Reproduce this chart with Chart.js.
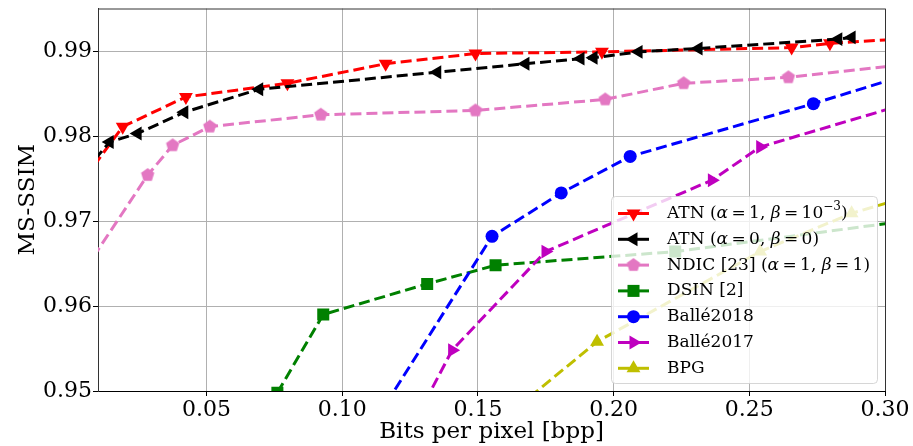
<!DOCTYPE html>
<html>
<head>
<meta charset="utf-8">
<script src="https://cdn.jsdelivr.net/npm/chart.js@4"></script>
<style>
  html, body { margin: 0; padding: 0; background: #fff; }
  #wrap { width: 913px; height: 446px; }
</style>
</head>
<body>
<div id="wrap"><canvas id="rd-chart" width="913" height="446"></canvas></div>
<script>
// rate-distortion points (bpp, MS-SSIM)
const atnBpp   = [0.005, 0.0191, 0.0424, 0.0798, 0.1160, 0.1491, 0.1957, 0.2656, 0.2797, 0.31];
const atnSsim  = [0.9750, 0.9811, 0.9846, 0.9862, 0.9885, 0.9897, 0.9899, 0.9904, 0.9909, 0.9915];
const atn0Bpp  = [0.005, 0.0143, 0.0246, 0.0418, 0.0694, 0.1350, 0.1675, 0.1878, 0.1926, 0.2092, 0.2313, 0.2828, 0.2877];
const atn0Ssim = [0.9758, 0.9793, 0.9803, 0.9828, 0.9855, 0.9875, 0.9885, 0.9891, 0.9892, 0.9899, 0.9903, 0.9914, 0.9916];
const ndicBpp  = [0.005, 0.0283, 0.0375, 0.0512, 0.0921, 0.1491, 0.1969, 0.2258, 0.2644, 0.31];
const ndicSsim = [0.9642, 0.9754, 0.9789, 0.9811, 0.9825, 0.9830, 0.9843, 0.9862, 0.9869, 0.9885];
const dsinBpp  = [0.0761, 0.0930, 0.1313, 0.1565, 0.2227, 0.31];
const dsinSsim = [0.9498, 0.9590, 0.9626, 0.9648, 0.9664, 0.9701];
const b18Bpp   = [0.110, 0.1552, 0.1807, 0.2061, 0.2736, 0.31];
const b18Ssim  = [0.9454, 0.9682, 0.9733, 0.9776, 0.9838, 0.9874];
const b17Bpp   = [0.125, 0.1405, 0.1749, 0.2362, 0.2540, 0.31];
const b17Ssim  = [0.9454, 0.9548, 0.9664, 0.9748, 0.9787, 0.9840];
const bpgBpp   = [0.160, 0.1939, 0.2540, 0.2877, 0.31];
const bpgSsim  = [0.9469, 0.9558, 0.9664, 0.9709, 0.9730];

const xTicks = [0.05, 0.10, 0.15, 0.20, 0.25, 0.30];
const yTicks = [0.95, 0.96, 0.97, 0.98, 0.99];

const serif = "'DejaVu Serif', 'Liberation Serif', serif";

function pts(xs, ys) {
  return xs.map((x, i) => ({ x: x, y: ys[i] }));
}

// matplotlib-like pentagon marker (Chart.js has none built in)
function pentagon(color, r) {
  const c = document.createElement("canvas");
  c.width = c.height = r * 2 + 2;
  const g = c.getContext("2d");
  g.fillStyle = color;
  g.beginPath();
  for (let k = 0; k < 5; k++) {
    const a = -Math.PI / 2 + k * 2 * Math.PI / 5;
    const px = r + 1 + r * Math.cos(a), py = r + 1 + r * Math.sin(a);
    if (k === 0) g.moveTo(px, py); else g.lineTo(px, py);
  }
  g.closePath();
  g.fill();
  return c;
}

const ts = "\u2009"; // thin space, like mathtext around '='
const series = [
  { label: [["ATN (", 0], ["α", 1], [ts + "=" + ts + "1, ", 0], ["β", 1], [ts + "=" + ts + "10", 0], ["−3", 2], [")", 0]],
    data: pts(atnBpp, atnSsim), color: "#ff0000", style: "triangle", rot: 180, r: 8 },
  { label: [["ATN (", 0], ["α", 1], [ts + "=" + ts + "0, ", 0], ["β", 1], [ts + "=" + ts + "0)", 0]],
    data: pts(atn0Bpp, atn0Ssim), color: "#000000", style: "triangle", rot: 270, r: 8 },
  { label: [["NDIC [23] (", 0], ["α", 1], [ts + "=" + ts + "1, ", 0], ["β", 1], [ts + "=" + ts + "1)", 0]],
    data: pts(ndicBpp, ndicSsim), color: "#e377c2", style: pentagon("#e377c2", 7), rot: 0, r: 7 },
  { label: [["DSIN [2]", 0]],
    data: pts(dsinBpp, dsinSsim), color: "#008000", style: "rect", rot: 0, r: 8.5 },
  { label: [["Ballé2018", 0]],
    data: pts(b18Bpp, b18Ssim), color: "#0000ff", style: "circle", rot: 0, r: 6.5 },
  { label: [["Ballé2017", 0]],
    data: pts(b17Bpp, b17Ssim), color: "#bf00bf", style: "triangle", rot: 90, r: 8 },
  { label: [["BPG", 0]],
    data: pts(bpgBpp, bpgSsim), color: "#bfbf00", style: "triangle", rot: 0, r: 8 }
];

// legend drawn inside the plot like matplotlib's loc='lower right'
const insideLegend = {
  id: "insideLegend",
  afterDraw(chart) {
    const ctx = chart.ctx;
    const bx = 611, by = 196, bw = 266, bh = 187;
    ctx.save();
    ctx.fillStyle = "rgba(255,255,255,0.8)";
    ctx.strokeStyle = "rgba(204,204,204,0.8)";
    ctx.lineWidth = 1;
    ctx.beginPath();
    ctx.roundRect(bx + 0.5, by + 0.5, bw, bh, 4);
    ctx.fill();
    ctx.stroke();

    series.forEach((s, i) => {
      const cy = 213.5 + i * 25.8;
      ctx.strokeStyle = s.color;
      ctx.lineWidth = 3;
      ctx.setLineDash([]);
      ctx.beginPath();
      ctx.moveTo(618, cy);
      ctx.lineTo(649, cy);
      ctx.stroke();
      ctx.fillStyle = s.color;
      Chart.helpers.drawPoint(ctx, {
        pointStyle: s.style, radius: s.r, rotation: s.rot, borderWidth: 0
      }, 633.5, cy);

      let x = 667;
      ctx.fillStyle = "#000";
      ctx.textBaseline = "middle";
      s.label.forEach(([txt, kind]) => {
        if (kind === 1) ctx.font = "italic 17px " + serif;
        else if (kind === 2) ctx.font = "12px " + serif;
        else ctx.font = "17px " + serif;
        const dy = kind === 2 ? -7 : 0;
        ctx.fillText(txt, x, cy + dy);
        x += ctx.measureText(txt).width;
      });
    });
    ctx.restore();
  }
};

document.addEventListener("DOMContentLoaded", () => {
  const ctx = document.getElementById("rd-chart").getContext("2d");

  new Chart(ctx, {
    type: "line",
    data: {
      datasets: series.map((s, i) => ({
        data: s.data,
        borderColor: s.color,
        backgroundColor: s.color,
        borderWidth: 3,
        borderDash: [11, 5],
        pointStyle: s.style,
        pointRotation: s.rot,
        pointRadius: s.r,
        pointBorderWidth: 0,
        pointHoverRadius: s.r,
        tension: 0,
        fill: false,
        clip: 0,
        order: series.length - i // later series drawn on top, like matplotlib
      }))
    },
    options: {
      responsive: false,
      animation: false,
      events: [],
      layout: { padding: { top: 8, right: 28, left: 0, bottom: 0 } },
      plugins: {
        legend: { display: false },
        tooltip: { enabled: false }
      },
      scales: {
        x: {
          type: "linear",
          min: 0.01,
          max: 0.30,
          afterFit: (scale) => {
            scale.height = 55;
            scale.paddingLeft = 0;
            scale.paddingRight = 0;
          },
          afterBuildTicks: (scale) => { scale.ticks = xTicks.map(v => ({ value: v })); },
          ticks: {
            color: "#000",
            font: { family: serif, size: 22 },
            padding: 1,
            maxRotation: 0,
            callback: (v) => Number(v).toFixed(2)
          },
          grid: { color: "#b0b0b0", tickColor: "#000", tickLength: 5, lineWidth: 1 },
          border: { color: "#000", width: 1 },
          title: {
            display: true,
            text: "Bits per pixel [bpp]",
            color: "#000",
            font: { family: serif, size: 23 },
            padding: { top: 0, bottom: 0 }
          }
        },
        y: {
          type: "linear",
          min: 0.95,
          max: 0.995,
          afterFit: (scale) => {
            scale.width = 98;
            scale.paddingTop = 0;
            scale.paddingBottom = 0;
          },
          afterBuildTicks: (scale) => { scale.ticks = yTicks.map(v => ({ value: v })); },
          ticks: {
            color: "#000",
            font: { family: serif, size: 22 },
            padding: 1,
            callback: (v) => Number(v).toFixed(2)
          },
          grid: { color: "#b0b0b0", tickColor: "#000", tickLength: 5, lineWidth: 1 },
          border: { color: "#333", width: 1 },
          title: {
            display: true,
            text: "MS-SSIM",
            color: "#000",
            font: { family: serif, size: 23 },
            padding: { top: 14, bottom: 0 }
          }
        }
      }
    },
    plugins: [insideLegend, {
      // top and right spines
      id: "frame",
      afterDatasetsDraw(chart) {
        const a = chart.chartArea, c = chart.ctx;
        c.save();
        c.strokeStyle = "#333";
        c.lineWidth = 1;
        c.beginPath();
        c.moveTo(a.left, a.top + 0.5);
        c.lineTo(a.right + 0.5, a.top + 0.5);
        c.lineTo(a.right + 0.5, a.bottom);
        c.stroke();
        c.restore();
      }
    }]
  });
});
</script>
</body>
</html>
